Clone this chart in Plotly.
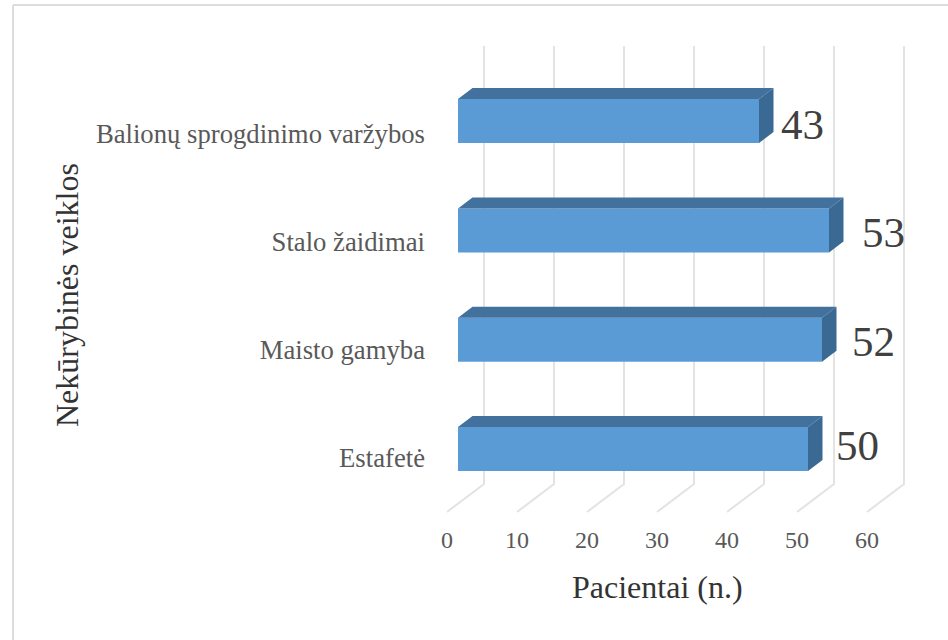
import plotly.graph_objects as go

# Chart data
categories = ["Estafetė", "Maisto gamyba", "Stalo žaidimai", "Balionų sprogdinimo varžybos"]
patients = [50, 52, 53, 43]
x_ticks = [0, 10, 20, 30, 40, 50, 60]

# Page geometry, in pixels
W, H = 948, 640
LEFT, RIGHT, TOP, BOTTOM = 426, 920, 30, 523
PX_PER_X = 7.0
PX_PER_Y = 109.3
LABEL_ROW_PX = 108.0
ZERO_PX = 447
FIRST_ROW_PX = 458

x_range = [(LEFT - ZERO_PX) / PX_PER_X, (RIGHT - ZERO_PX) / PX_PER_X]
y_range = [(FIRST_ROW_PX - BOTTOM) / PX_PER_Y, (FIRST_ROW_PX - TOP) / PX_PER_Y]


def dx(px):
    return px / PX_PER_X


def dy(px):
    return px / PX_PER_Y


# Pseudo-3D projection of the bars and the floor
BAR_BASE = dx(11)
BAR_LIFT = dy(9)
BAR_THICK = dy(44)
DEPTH_X = dx(14.5)
DEPTH_Y = dy(11)
FLOOR_DX = dx(37)
FLOOR_FRONT = dy(458 - 512)
FLOOR_BACK = dy(458 - 484)
WALL_TOP = dy(458 - 46)

FRONT = "#5B9BD5"
TOP_FACE = "#41719C"
SIDE_FACE = "#3A6A94"
GRID = "#E3E3E3"
BORDER = "#DDDDDD"

rows = list(range(len(categories)))
centres = [r + BAR_LIFT for r in rows]
label_rows = [r * LABEL_ROW_PX / PX_PER_Y for r in rows]

fig = go.Figure()
fig.add_trace(go.Bar(
    y=centres, x=patients, base=BAR_BASE, orientation="h", width=BAR_THICK,
    marker=dict(color=FRONT, line=dict(width=0)), hoverinfo="skip",
))

for value, c in zip(patients, centres):
    xl, xr = BAR_BASE, BAR_BASE + value
    yb, yt = c - BAR_THICK / 2, c + BAR_THICK / 2
    fig.add_trace(go.Scatter(
        x=[xl, xr, xr + DEPTH_X, xl + DEPTH_X, xl],
        y=[yt, yt, yt + DEPTH_Y, yt + DEPTH_Y, yt],
        mode="lines", fill="toself", fillcolor=TOP_FACE,
        line=dict(width=0), hoverinfo="skip",
    ))
    fig.add_trace(go.Scatter(
        x=[xr, xr + DEPTH_X, xr + DEPTH_X, xr, xr],
        y=[yt, yt + DEPTH_Y, yb + DEPTH_Y, yb, yt],
        mode="lines", fill="toself", fillcolor=SIDE_FACE,
        line=dict(width=0), hoverinfo="skip",
    ))

# Value labels beside each bar, nudged in pixels
label_dx = [49, 51, 54, 43]
label_dy = [-4, 2, 2, 3]
annotations = []
for value, c, sx, sy in zip(patients, centres, label_dx, label_dy):
    annotations.append(dict(
        x=BAR_BASE + value, y=c, xref="x", yref="y", text=str(value), showarrow=False,
        xshift=sx, yshift=-sy, font=dict(family="Liberation Serif", size=43, color="#404040"),
    ))

# Axis titles
annotations.append(dict(
    x=(657 - LEFT) / (RIGHT - LEFT), y=(BOTTOM - 587) / (BOTTOM - TOP),
    xref="paper", yref="paper", xanchor="center", yanchor="middle",
    text="Pacientai (n.)", showarrow=False,
    font=dict(family="Liberation Serif", size=32, color="#333333"),
))
annotations.append(dict(
    x=(67 - LEFT) / (RIGHT - LEFT), y=(BOTTOM - 295) / (BOTTOM - TOP),
    xref="paper", yref="paper", xanchor="center", yanchor="middle",
    text="Nekūrybinės veiklos", showarrow=False, textangle=-90,
    font=dict(family="Liberation Serif", size=32, color="#333333"),
))

# Gridlines run across the floor and up the back wall, behind the bars
shapes = []
for t in x_ticks:
    shapes.append(dict(
        type="path", xref="x", yref="y", layer="below",
        path=f"M {t} {FLOOR_FRONT} L {t + FLOOR_DX} {FLOOR_BACK} L {t + FLOOR_DX} {WALL_TOP}",
        line=dict(color=GRID, width=2),
    ))

# Chart frame along the left and top of the page
frame_x = (13 - LEFT) / (RIGHT - LEFT)
frame_y = (BOTTOM - 5) / (BOTTOM - TOP)
page_r = (W - LEFT) / (RIGHT - LEFT)
page_b = (BOTTOM - H) / (BOTTOM - TOP)
shapes.append(dict(type="line", xref="paper", yref="paper", x0=frame_x, x1=frame_x,
                   y0=page_b, y1=frame_y, line=dict(color=BORDER, width=2)))
shapes.append(dict(type="line", xref="paper", yref="paper", x0=frame_x, x1=page_r,
                   y0=frame_y, y1=frame_y, line=dict(color=BORDER, width=2)))

fig.update_layout(
    width=W, height=H, showlegend=False,
    paper_bgcolor="white", plot_bgcolor="white",
    margin=dict(l=LEFT, r=W - RIGHT, t=TOP, b=H - BOTTOM, autoexpand=False),
    shapes=shapes, annotations=annotations,
    xaxis=dict(
        range=x_range, tickmode="array", tickvals=x_ticks, showgrid=False, zeroline=False,
        showline=False, ticks="",
        tickfont=dict(family="Liberation Serif", size=24, color="#595959"),
    ),
    yaxis=dict(
        range=y_range, tickmode="array", tickvals=label_rows, ticktext=categories,
        showgrid=False, zeroline=False, showline=False, ticks="",
        tickfont=dict(family="Liberation Serif", size=26.7, color="#595959"),
    ),
)

fig.write_html("out.html", config=dict(displayModeBar=False))
